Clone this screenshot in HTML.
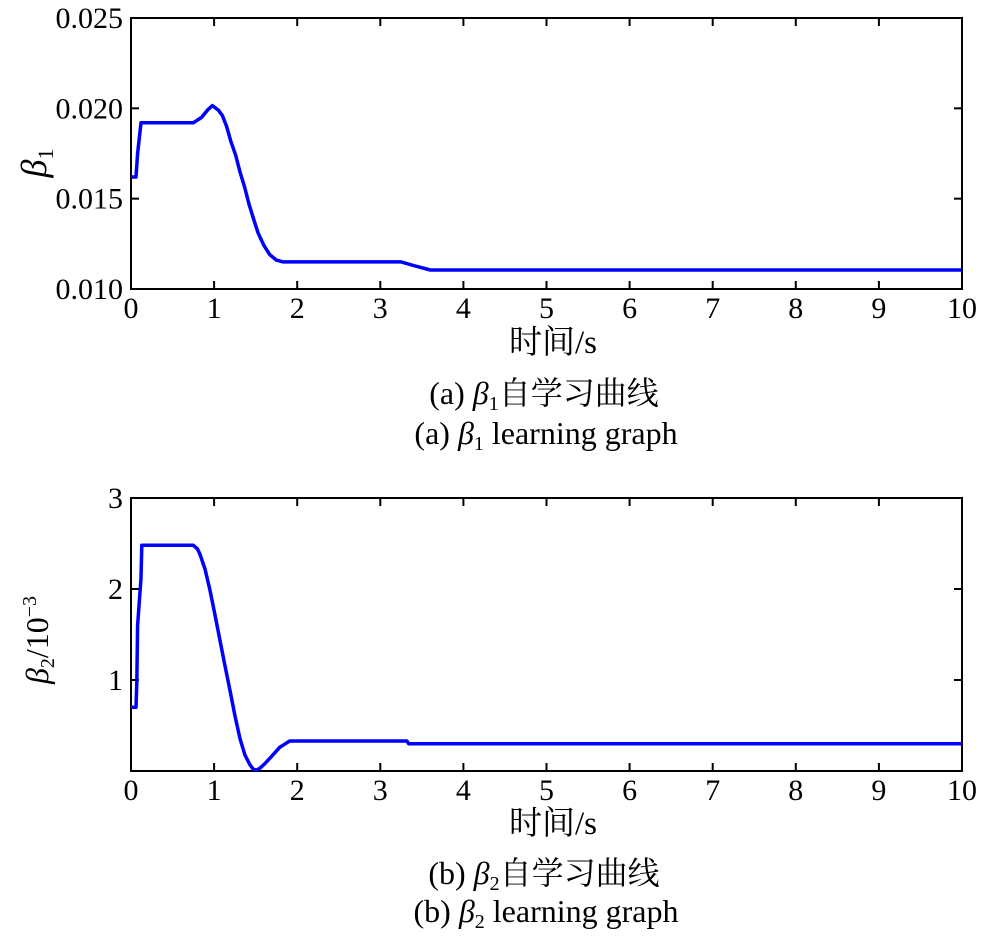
<!DOCTYPE html>
<html><head><meta charset="utf-8"><style>
body{margin:0;background:#fff}
svg{display:block}
text{font-family:"Liberation Serif","Noto Serif CJK SC",serif;fill:#000}
</style></head><body>
<svg width="1000" height="938" viewBox="0 0 1000 938">
<g id="p1"></g>
<g id="p2"></g>
<text x="553" y="353" font-size="33" text-anchor="middle">时间/s</text>
<text x="544" y="404" font-size="32" text-anchor="middle">(a) <tspan font-style="italic">β</tspan><tspan font-size="20" dy="6">1</tspan><tspan dy="-6">自学习曲线</tspan></text>
<text x="546" y="444" font-size="32" text-anchor="middle">(a) <tspan font-style="italic">β</tspan><tspan font-size="20" dy="6">1</tspan><tspan dy="-6"> learning graph</tspan></text>
<text x="553" y="834" font-size="33" text-anchor="middle">时间/s</text>
<text x="544" y="884" font-size="32" text-anchor="middle">(b) <tspan font-style="italic">β</tspan><tspan font-size="20" dy="6">2</tspan><tspan dy="-6">自学习曲线</tspan></text>
<text x="546" y="922" font-size="32" text-anchor="middle">(b) <tspan font-style="italic">β</tspan><tspan font-size="20" dy="6">2</tspan><tspan dy="-6"> learning graph</tspan></text>
<text transform="translate(46,163) rotate(-90)" font-size="36" text-anchor="middle"><tspan font-style="italic">β</tspan><tspan font-size="22" dy="7">1</tspan></text>
<text transform="translate(48,640) rotate(-90)" font-size="32" text-anchor="middle"><tspan font-style="italic">β</tspan><tspan font-size="20" dy="6">2</tspan><tspan dy="-6">/10</tspan><tspan font-size="20" dy="-12">−3</tspan></text>
</svg>
<script>
const xTicks=[0,1,2,3,4,5,6,7,8,9,10];
const t1=[0,0.06,0.08,0.12,0.75,0.85,0.92,0.98,1.05,1.1,1.15,1.2,1.26,1.31,1.37,1.42,1.48,1.53,1.6,1.67,1.75,1.83,3.25,3.4,3.6,10];
const v1=[0.0162,0.0162,0.0175,0.0192,0.0192,0.0195,0.0199,0.02015,0.0199,0.0196,0.0190,0.0182,0.0174,0.0165,0.0156,0.0147,0.0138,0.0131,0.0124,0.0119,0.0116,0.0115,0.0115,0.0113,0.01105,0.01105];
const yTicks1=[0.010,0.015,0.020,0.025];
const yLabels1=["0.010","0.015","0.020","0.025"];
const t2=[0,0.06,0.07,0.08,0.12,0.13,0.75,0.8,0.83,0.89,0.95,1.01,1.07,1.13,1.19,1.25,1.31,1.37,1.43,1.47,1.51,1.55,1.61,1.67,1.73,1.79,1.91,3.32,3.34,10];
const v2=[0.70,0.70,0.97,1.6,2.12,2.48,2.48,2.44,2.38,2.22,1.99,1.72,1.44,1.16,0.89,0.61,0.36,0.18,0.07,0.02,0.01,0.03,0.08,0.14,0.20,0.26,0.33,0.33,0.30,0.30];
const yTicks2=[1,2,3];
const yLabels2=["1","2","3"];
const NS="http://www.w3.org/2000/svg";
function mk(tag,attrs,parent){const e=document.createElementNS(NS,tag);for(const k in attrs)e.setAttribute(k,attrs[k]);parent.appendChild(e);return e;}
function draw(gid,top,bottom,ymin,ymax,yt,yl,ts,vs,xLabelY){
  const g=document.getElementById(gid);
  const L=131,R=962;
  const sx=v=>L+(v-0)/(10-0)*(R-L);
  const sy=v=>bottom-(v-ymin)/(ymax-ymin)*(bottom-top);
  const box=mk('rect',{x:L,y:top,width:R-L,height:bottom-top,fill:'none',stroke:'#000','stroke-width':2},g);
  
  
  xTicks.forEach(v=>{
    const x=sx(v);
    const a=mk('line',{x1:x,x2:x,y1:bottom,y2:bottom-8,stroke:'#000','stroke-width':2},g);
    
    
    const b=mk('line',{x1:x,x2:x,y1:top,y2:top+8,stroke:'#000','stroke-width':2},g);
    
    
    const t=mk('text',{x:x,y:xLabelY,'font-size':30,'text-anchor':'middle'},g);
    
    
    t.textContent=String(v);
  });
  yt.forEach((v,i)=>{
    const y=sy(v);
    const a=mk('line',{x1:L,x2:L+8,y1:y,y2:y,stroke:'#000','stroke-width':2},g);
    
    
    const b=mk('line',{x1:R,x2:R-8,y1:y,y2:y,stroke:'#000','stroke-width':2},g);
    
    
    const t=mk('text',{x:L-8,y:y+10,'font-size':30,'text-anchor':'end'},g);
    
    
    t.textContent=yl[i];
  });
  const d=ts.map((t,i)=>(i?'L':'M')+sx(t).toFixed(1)+','+sy(vs[i]).toFixed(1)).join(' ');
  const p=mk('path',{d:d,fill:'none',stroke:'#0000ff','stroke-width':3.5,'stroke-linejoin':'round'},g);
  
  
}
draw('p1',18,289,0.010,0.025,yTicks1,yLabels1,t1,v1,318);
draw('p2',498,771,0,3,yTicks2,yLabels2,t2,v2,800);
</script>
</body></html>
